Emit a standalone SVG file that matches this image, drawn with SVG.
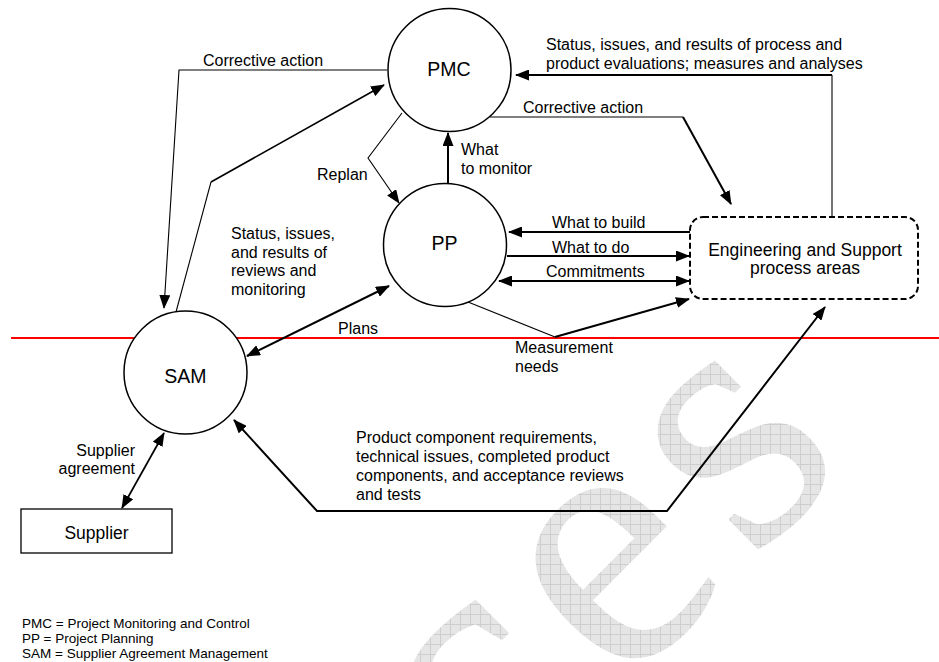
<svg xmlns="http://www.w3.org/2000/svg" width="939" height="662" viewBox="0 0 939 662">
  <style>
    .lbl { font-family: "Liberation Sans", Arial, sans-serif; font-size: 16px; fill: #000; }
    .node-text { font-family: "Liberation Sans", Arial, sans-serif; font-size: 19.5px; fill: #000; text-anchor: middle; }
    .box-text { font-family: "Liberation Sans", Arial, sans-serif; font-size: 17.5px; fill: #000; text-anchor: middle; }
    .legend { font-family: "Liberation Sans", Arial, sans-serif; font-size: 13.5px; fill: #000; }
    .circle { fill: #fff; stroke: #000; stroke-width: 1.5; }
    .thin { fill: none; stroke: #000; stroke-width: 1.1; }
    .thick { fill: none; stroke: #000; stroke-width: 2; }
    .mark { font-family: "Liberation Serif", "Times New Roman", serif; font-size: 370px; fill: url(#grid); }
  </style>
  <defs>
    <pattern id="grid" width="10" height="10" patternUnits="userSpaceOnUse" patternTransform="rotate(45)">
      <rect width="10" height="10" fill="#e5e5e5"/>
      <path d="M0,0.5H10M0.5,0V10" stroke="#cecece" stroke-width="1"/>
    </pattern>
    <marker id="ah" viewBox="0 0 14 11" refX="13" refY="5.5" markerWidth="14" markerHeight="11" orient="auto-start-reverse" markerUnits="userSpaceOnUse">
      <path d="M0,0 L14,5.5 L0,11 z" fill="#000"/>
    </marker>
  </defs>

  <rect width="939" height="662" fill="#fff"/>

  <!-- background watermark -->
  <g id="watermark" transform="translate(620,694) rotate(-45)">
    <text class="mark" x="-184">c<tspan dx="20">e</tspan><tspan dx="20">s</tspan></text>
  </g>

  <!-- boundary line -->
  <line x1="11" y1="338" x2="939" y2="338" stroke="#ff0000" stroke-width="2"/>

  <!-- connectors -->
  <g id="connectors">
    <!-- PMC corrective action to SAM -->
    <path class="thin" d="M387,70 L179,70 L164,308" marker-end="url(#ah)"/>
    <!-- SAM status to PMC -->
    <path class="thin" d="M176,312 L211,182"/>
    <path class="thin" style="stroke-width:1.6" d="M211,182 L384,85" marker-end="url(#ah)"/>
    <!-- Replan -->
    <path class="thin" d="M402,113 L368,158 L399,203" marker-end="url(#ah)"/>
    <!-- What to monitor -->
    <path class="thick" d="M448,184 L448,133" marker-end="url(#ah)"/>
    <!-- Engineering status to PMC -->
    <path class="thin" d="M832,217 L832,75"/>
    <path class="thick" d="M832,75 L516,75" marker-end="url(#ah)"/>
    <!-- PMC corrective action to Engineering -->
    <path class="thin" d="M490,117 L683,117"/>
    <path class="thick" d="M683,117 L731,204" marker-end="url(#ah)"/>
    <!-- What to build -->
    <path class="thick" d="M690,232 L509,232" marker-end="url(#ah)"/>
    <!-- What to do -->
    <path class="thick" d="M507,256 L689,256" marker-end="url(#ah)"/>
    <!-- Commitments -->
    <path class="thick" d="M499,281 L689,281" marker-start="url(#ah)" marker-end="url(#ah)"/>
    <!-- Measurement needs -->
    <path class="thin" d="M468,302 L555,337"/>
    <path class="thick" d="M555,337 L689,299" marker-end="url(#ah)"/>
    <!-- Plans -->
    <path class="thick" d="M247,356 L389,286" marker-start="url(#ah)" marker-end="url(#ah)"/>
    <!-- Supplier agreement -->
    <path class="thick" style="stroke-width:1.7" d="M164,433 L122,508" marker-start="url(#ah)" marker-end="url(#ah)"/>
    <!-- Product components exchange -->
    <path class="thick" d="M234,420 L317,511 L667,511 L825,307" marker-start="url(#ah)" marker-end="url(#ah)"/>
  </g>

  <!-- nodes -->
  <g id="pmc">
    <circle class="circle" cx="449.5" cy="70" r="61.5"/>
    <text class="node-text" x="449" y="76">PMC</text>
  </g>
  <g id="pp">
    <circle class="circle" cx="445" cy="245" r="61.5"/>
    <text class="node-text" x="444.5" y="250">PP</text>
  </g>
  <g id="sam">
    <circle class="circle" cx="185.5" cy="372.5" r="61.5"/>
    <text class="node-text" x="185.5" y="383">SAM</text>
  </g>
  <g id="engineering">
    <rect x="690" y="217" width="228" height="82" rx="13" ry="13" fill="none" stroke="#000" stroke-width="2" stroke-dasharray="6 3"/>
    <text class="box-text" x="805" y="256">Engineering and Support</text>
    <text class="box-text" x="805" y="274">process areas</text>
  </g>
  <g id="supplier">
    <rect x="21" y="509" width="151" height="44" fill="#fff" stroke="#000" stroke-width="1.3"/>
    <text class="box-text" x="96.5" y="539">Supplier</text>
  </g>

  <!-- connector labels -->
  <g id="labels">
    <text class="lbl" x="203" y="66">Corrective action</text>
    <text class="lbl" x="546" y="50">Status, issues, and results of process and</text>
    <text class="lbl" x="546" y="68.5">product evaluations; measures and analyses</text>
    <text class="lbl" x="523" y="113">Corrective action</text>
    <text class="lbl" x="317" y="180">Replan</text>
    <text class="lbl" x="461" y="155">What</text>
    <text class="lbl" x="461" y="173.5">to monitor</text>
    <text class="lbl" x="552" y="228">What to build</text>
    <text class="lbl" x="552" y="252.5">What to do</text>
    <text class="lbl" x="546" y="276.5">Commitments</text>
    <text class="lbl" x="231" y="239">Status, issues,</text>
    <text class="lbl" x="231" y="257.5">and results of</text>
    <text class="lbl" x="231" y="276">reviews and</text>
    <text class="lbl" x="231" y="294.5">monitoring</text>
    <text class="lbl" x="338" y="334">Plans</text>
    <text class="lbl" x="515" y="353">Measurement</text>
    <text class="lbl" x="515" y="372">needs</text>
    <text class="lbl" x="135" y="456" text-anchor="end">Supplier</text>
    <text class="lbl" x="135" y="474" text-anchor="end">agreement</text>
    <text class="lbl" x="356" y="443">Product component requirements,</text>
    <text class="lbl" x="356" y="462">technical issues, completed product</text>
    <text class="lbl" x="356" y="481">components, and acceptance reviews</text>
    <text class="lbl" x="356" y="499.5">and tests</text>
  </g>

  <!-- abbreviations -->
  <g id="legend">
    <text class="legend" x="22" y="628">PMC = Project Monitoring and Control</text>
    <text class="legend" x="22" y="643">PP = Project Planning</text>
    <text class="legend" x="22" y="658">SAM = Supplier Agreement Management</text>
  </g>
</svg>
